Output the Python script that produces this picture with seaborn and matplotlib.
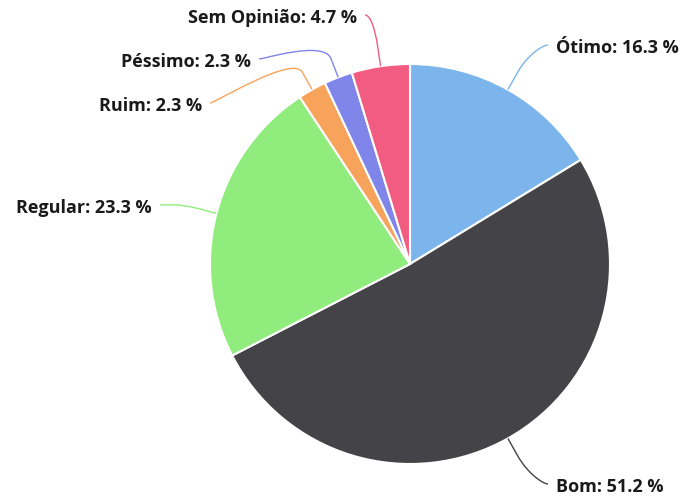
import numpy as np
import seaborn as sns
import matplotlib.pyplot as plt
from matplotlib.path import Path
from matplotlib.patches import PathPatch

sns.set_theme(style="white")
plt.rcParams['font.family'] = ['Open Sans', 'DejaVu Sans']

# data
categories = ['Ótimo', 'Bom', 'Regular', 'Ruim', 'Péssimo', 'Sem Opinião']
values = [16.3, 51.2, 23.3, 2.3, 2.3, 4.7]
colors = sns.color_palette(['#7cb5ec', '#434348', '#90ed7d', '#f7a35c', '#8085e9', '#f15c80'])

# label placement (pixel layout, y measured from top)
label_pos = [(556, 48), (556, 487), (152, 208), (202, 106), (251, 62), (357, 18)]
label_ha = ['left', 'left', 'right', 'right', 'right', 'right']

W, H = 685, 497
fig = plt.figure(figsize=(W / 100, H / 100), dpi=100)
ax = fig.add_axes([0, 0, 1, 1])

cx, cy, r = 410, H - 264, 200
wedges, _ = ax.pie(values, colors=colors, startangle=90, counterclock=False,
                   center=(cx, cy), radius=r,
                   wedgeprops=dict(edgecolor='white', linewidth=1.5))

for w, cat, val, (tx, ty), ha, col in zip(wedges, categories, values, label_pos, label_ha, colors):
    ty = H - ty
    ax.text(tx, ty, f'{cat}: {val} %', ha=ha, va='center', fontsize=13,
            fontweight='bold', color='#1a1a1a')

    # soft connector: label -> break point (just outside the slice) -> slice edge
    theta = np.deg2rad((w.theta1 + w.theta2) / 2)
    d = np.array([np.cos(theta), np.sin(theta)])
    touch = np.array([cx, cy]) + r * d
    brk = np.array([cx, cy]) + (r + 20) * d
    sgn = 1 if ha == 'right' else -1
    start = np.array([tx + sgn * 8, ty + 3])
    verts = [start, start + [sgn * 5, 0], 2 * brk - touch, brk, touch]
    codes = [Path.MOVETO, Path.CURVE4, Path.CURVE4, Path.CURVE4, Path.LINETO]
    ax.add_patch(PathPatch(Path(verts, codes), fill=False, edgecolor=col, lw=1))

ax.set_xlim(0, W)
ax.set_ylim(0, H)
ax.set_aspect('equal')
ax.axis('off')

fig.savefig('out.png', dpi=100)
